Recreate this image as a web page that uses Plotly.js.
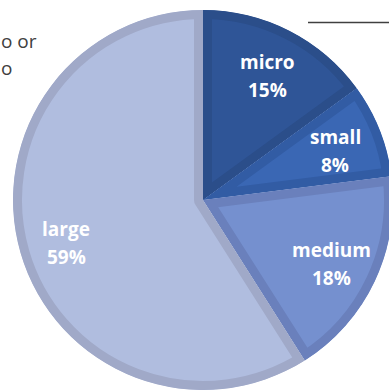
<!DOCTYPE html>
<html>
<head>
<meta charset="utf-8">
<script src="https://cdn.plot.ly/plotly-3.0.1.min.js"></script>
<style>
html, body { margin: 0; padding: 0; overflow: hidden; background: #fff; }
#chart { width: 400px; height: 400px; }
</style>
</head>
<body>
<div id="chart"></div>
<script>
// ---- data ----
var categories = ["micro", "small", "medium", "large"];
var shares = [15, 8, 18, 59];
var fillColors = ["#2f5597", "#3a67b4", "#7590cf", "#b0bddf"];
var edgeColors = ["#2b4e8a", "#325ca4", "#6a80bc", "#a0a9c8"];
var cutTitleLines = ["o or", "o"];

// ---- layout geometry (plot area in px) ----
var W = 400, H = 400, L = 13, T = 10, R = 7, B = 10;
var PW = W - L - R, PH = H - T - B;
function px2x(px) { return (px - L) / PW; }
function py2y(py) { return 1 - (py - T) / PH; }

// label positions computed from the data (slice mid-angles)
var total = shares.reduce(function (a, b) { return a + b; }, 0);
var annotations = [];
var cum = 0;
var labelFrac = 0.75;
for (var i = 0; i < shares.length; i++) {
  var mid = (cum + shares[i] / 2) / total * 2 * Math.PI;
  cum += shares[i];
  var ax = 0.5 + labelFrac * 0.5 * Math.sin(mid);
  var ay = 0.5 + labelFrac * 0.5 * Math.cos(mid);
  var pct = Math.round(shares[i] / total * 100) + "%";
  var f = { family: "Open Sans, sans-serif", size: 19, color: "#ffffff", weight: 700 };
  annotations.push({ xref: "paper", yref: "paper", x: ax, y: ay, text: "<b>" + categories[i] + "</b>",
    showarrow: false, font: f, yshift: 11, xanchor: "center", yanchor: "middle" });
  annotations.push({ xref: "paper", yref: "paper", x: ax, y: ay, text: "<b>" + pct + "</b>",
    showarrow: false, font: f, yshift: -17, xanchor: "center", yanchor: "middle" });
}
// cut-off title text at top-left
var titleYs = [41, 68];
for (var j = 0; j < cutTitleLines.length; j++) {
  annotations.push({ xref: "paper", yref: "paper", x: px2x(-1), y: py2y(titleYs[j]),
    text: cutTitleLines[j], showarrow: false, xanchor: "left", yanchor: "middle",
    font: { family: "Open Sans, sans-serif", size: 19, color: "#404040" } });
}

var trace = {
  type: "pie",
  labels: categories,
  values: shares,
  sort: false,
  direction: "clockwise",
  rotation: 0,
  textinfo: "none",
  hoverinfo: "none",
  marker: { colors: fillColors, line: { color: edgeColors, width: 18 } }
};

var layout = {
  width: W, height: H,
  margin: { l: L, r: R, t: T, b: B, pad: 0 },
  showlegend: false,
  paper_bgcolor: "#ffffff",
  annotations: annotations,
  shapes: [{ type: "line", xref: "paper", yref: "paper",
    x0: px2x(308), x1: px2x(400), y0: py2y(22.5), y1: py2y(22.5),
    line: { color: "#404040", width: 1.5 } }]
};

Plotly.newPlot("chart", [trace], layout, { staticPlot: true, displayModeBar: false }).then(function (gd) {
  // keep each slice's border inside its own slice (clip stroke to slice shape)
  var svg = gd.querySelector("svg.main-svg");
  var ns = "http://www.w3.org/2000/svg";
  var defs = document.createElementNS(ns, "defs");
  svg.insertBefore(defs, svg.firstChild);
  var paths = gd.querySelectorAll("g.slice path.surface");
  paths.forEach(function (p, k) {
    var cp = document.createElementNS(ns, "clipPath");
    cp.setAttribute("id", "sliceclip" + k);
    var cpp = document.createElementNS(ns, "path");
    cpp.setAttribute("d", p.getAttribute("d"));
    cp.appendChild(cpp);
    defs.appendChild(cp);
    p.setAttribute("clip-path", "url(#sliceclip" + k + ")");
  });
});
</script>
</body>
</html>
